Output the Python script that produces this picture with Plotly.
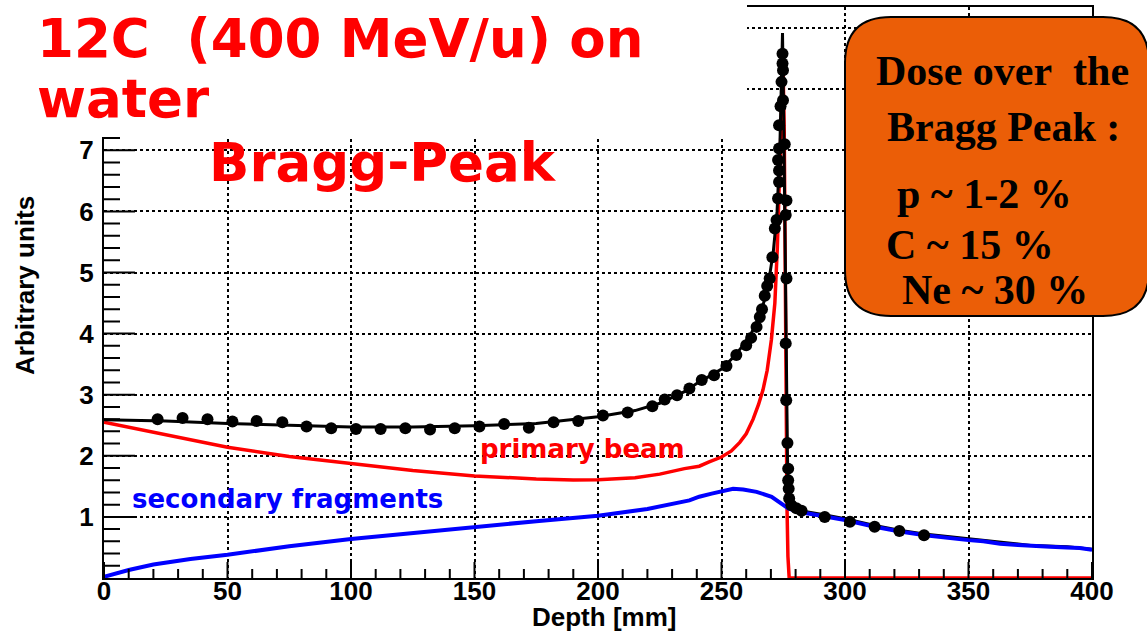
import plotly.graph_objects as go

# ---------------- data ----------------
red_x = [0, 25, 50, 75, 100, 125, 150, 175, 190, 200, 215, 225, 235, 241, 245, 250, 254,
         257.4, 260, 262.8, 265, 266.8, 268.5, 270.2, 271.6, 272.6, 273.5, 274.2, 274.9,
         275.4, 275.7, 276.1, 276.5, 276.9, 277.4, 400]
red_y = [2.55, 2.34, 2.14, 1.99, 1.87, 1.76, 1.67, 1.62, 1.605, 1.61, 1.64, 1.70, 1.79, 1.83,
         1.90, 1.98, 2.08, 2.22, 2.36, 2.60, 2.84, 3.08, 3.40, 3.90, 4.50, 5.40, 6.60, 7.60,
         8.40, 7.30, 5.00, 3.00, 1.20, 0.35, 0.0, 0.0]

tot_x = [0, 25, 50, 75, 100, 125, 150, 175, 200, 215, 225, 235, 241, 245, 250, 255, 258, 262,
         265, 268, 269.5, 271, 272.5, 273.6, 274.3, 274.7, 275.2, 275.7, 276.2, 276.7, 277.1,
         277.6, 279, 282, 292, 300, 312, 322, 332, 350, 363, 376, 390, 400]
tot_y = [2.59, 2.57, 2.53, 2.50, 2.47, 2.47, 2.49, 2.53, 2.64, 2.74, 2.86, 3.05, 3.21, 3.30,
         3.42, 3.62, 3.77, 4.00, 4.25, 4.62, 4.95, 5.35, 6.00, 7.00, 8.00, 8.92, 7.50, 5.50,
         3.50, 2.00, 1.40, 1.20, 1.13, 1.10, 1.03, 0.97, 0.86, 0.78, 0.72, 0.64, 0.58, 0.53,
         0.51, 0.47]

sec_x = [0, 5, 10, 20, 35, 50, 75, 100, 125, 150, 175, 200, 220, 237, 241, 246, 250, 254.7,
         258.8, 264.2, 270.3, 274.3, 277, 281.7, 291.8, 300, 312, 322.3, 332.4, 340, 350, 356,
         362.8, 370, 376.3, 383, 389.8, 395, 400]
sec_y = [0.02, 0.08, 0.13, 0.22, 0.31, 0.38, 0.52, 0.64, 0.74, 0.83, 0.93, 1.02, 1.13, 1.27,
         1.33, 1.38, 1.41, 1.46, 1.45, 1.41, 1.33, 1.22, 1.14, 1.08, 1.01, 0.95, 0.84, 0.76,
         0.70, 0.66, 0.62, 0.60, 0.56, 0.54, 0.52, 0.51, 0.50, 0.49, 0.46]

dot_x = [21.7, 31.8, 41.9, 52, 61.8, 72.2, 82, 92, 102, 112, 122, 132, 142, 152, 162, 172, 182,
         192, 202, 212, 222, 227, 232, 237, 242, 247, 252, 256, 260, 262, 264.2, 265.5, 266.4,
         267.5, 268.5, 269.5, 270.6, 271.6, 272.3, 272.9, 273.3, 273.3, 272.9, 273.3, 273.3,
         273.9, 274.9, 275.6, 274.3, 274.9, 274.7, 274.7,
         276.3, 276.0, 276.3, 276.0, 276.2, 276.7, 277.0, 277.0, 277.2, 277.4, 278.3, 280.3,
         282.4, 291.8, 302, 312, 322, 332]
dot_y = [2.60, 2.62, 2.60, 2.56, 2.57, 2.55, 2.48, 2.45, 2.44, 2.44, 2.45, 2.43, 2.45, 2.48,
         2.52, 2.46, 2.55, 2.57, 2.66, 2.71, 2.81, 2.92, 2.99, 3.10, 3.24, 3.32, 3.47, 3.65,
         3.81, 3.93, 4.11, 4.27, 4.40, 4.62, 4.78, 4.90, 5.25, 5.72, 5.86, 6.21, 6.48, 6.67,
         6.84, 7.03, 7.41, 7.72, 7.82, 7.10, 8.12, 8.31, 8.42, 8.58,
         6.18, 5.94, 4.90, 3.84, 2.91, 2.21, 1.79, 1.60, 1.46, 1.30, 1.19, 1.14, 1.10, 1.00,
         0.92, 0.84, 0.77, 0.70]

# axis ticks
x_major = [0, 50, 100, 150, 200, 250, 300, 350, 400]
x_minor_step = 10
y_major = [1, 2, 3, 4, 5, 6, 7, 8, 9]
y_ticktext = ["1", "2", "3", "4", "5", "6", "7", "", ""]
y_minor_step = 0.2

title_lines = ["12C\u00a0 (400 MeV/u) on", "water", "Bragg-Peak"]
box_lines = ["Dose over\u00a0 the", "Bragg Peak :", "p ~ 1-2 %", "C ~ 15 %", "Ne ~ 30 %"]

# ---------------- geometry helpers (pixels -> paper) ----------------
W, H = 1147, 634
ML, MR, MT, MB = 104, 55, 7, 56
L, R, T, B = ML, W - MR, MT, H - MB
x_range = [0, 400]
y_range = [0, (B - T) / 61.1]
px_per_x = (R - L) / (x_range[1] - x_range[0])
px_per_y = (B - T) / (y_range[1] - y_range[0])


def fx(px):
    return (px - L) / (R - L)


def fy(py):
    return (B - py) / (B - T)


# inward-pointing tick marks (ROOT style) as one path in data coordinates,
# built from the tick arrays through the axis scales
segs = []
n_xminor = int(round((x_range[1] - x_range[0]) / x_minor_step))
for i in range(n_xminor + 1):
    v = x_range[0] + i * x_minor_step
    ln = (16 if v in x_major else 9) / px_per_y
    segs.append(f"M {v} {y_range[0]} L {v} {y_range[0] + ln}")
n_yminor = int(y_range[1] / y_minor_step)
for i in range(1, n_yminor + 1):
    v = round(i * y_minor_step, 6)
    ln = (31 if abs(v - round(v)) < 1e-6 else 16) / px_per_x
    segs.append(f"M {x_range[0]} {v} L {x_range[0] + ln} {v}")
tick_path = " ".join(segs)

fig = go.Figure()
fig.add_trace(go.Scatter(x=red_x, y=red_y, mode="lines",
                         line=dict(color="#ff0000", width=3.5), showlegend=False))
fig.add_trace(go.Scatter(x=tot_x, y=tot_y, mode="lines",
                         line=dict(color="#000000", width=3), showlegend=False))
fig.add_trace(go.Scatter(x=sec_x, y=sec_y, mode="lines",
                         line=dict(color="#0000ff", width=4), showlegend=False))
fig.add_trace(go.Scatter(x=dot_x, y=dot_y, mode="markers",
                         marker=dict(color="#000000", size=12), showlegend=False))

tickfont = dict(family="Liberation Sans", size=26, color="black", weight="bold")

fig.update_layout(
    xaxis=dict(range=x_range, tickvals=x_major, ticks="",
               showline=True, linewidth=2, linecolor="black", mirror=True,
               showgrid=True, gridcolor="black", gridwidth=1.5, griddash="dot",
               zeroline=False, tickfont=tickfont, ticklabelstandoff=-11,
               layer="below traces"),
    yaxis=dict(range=y_range, tickvals=y_major, ticktext=y_ticktext, ticks="",
               showline=True, linewidth=2, linecolor="black", mirror=True,
               showgrid=True, gridcolor="black", gridwidth=1.5, griddash="dot",
               zeroline=False, tickfont=tickfont, ticklabelstandoff=3),
)

shapes = []
shapes.append(dict(type="path", xref="x", yref="y", path=tick_path,
                   line=dict(color="black", width=2), layer="above"))
# white cover for the title area (top-left)
shapes.append(dict(type="rect", xref="paper", yref="paper", x0=fx(-5), x1=fx(747),
                   y0=fy(137), y1=fy(-5), fillcolor="white", line=dict(width=0),
                   layer="above"))
# orange rounded box
bx0, bx1, by0, by1, rr = 845, 1149, 17, 316, 46
path = (f"M {fx(bx0 + rr)} {fy(by0)} L {fx(bx1 - rr)} {fy(by0)} "
        f"Q {fx(bx1)} {fy(by0)} {fx(bx1)} {fy(by0 + rr)} "
        f"L {fx(bx1)} {fy(by1 - rr)} Q {fx(bx1)} {fy(by1)} {fx(bx1 - rr)} {fy(by1)} "
        f"L {fx(bx0 + rr)} {fy(by1)} Q {fx(bx0)} {fy(by1)} {fx(bx0)} {fy(by1 - rr)} "
        f"L {fx(bx0)} {fy(by0 + rr)} Q {fx(bx0)} {fy(by0)} {fx(bx0 + rr)} {fy(by0)} Z")
shapes.append(dict(type="path", xref="paper", yref="paper", path=path,
                   fillcolor="#eb5e07", line=dict(color="black", width=2), layer="above"))

ann = []
red_title = dict(family="DejaVu Sans", size=53, color="#ff0000", weight="bold")
for txt, (px, py) in zip(title_lines, [(35, 38), (35, 98), (207, 163)]):
    ann.append(dict(text=txt, x=fx(px), y=fy(py), xref="paper", yref="paper",
                    xanchor="left", yanchor="middle", showarrow=False, font=red_title))

box_font = dict(family="Liberation Serif", size=42, color="black", weight="bold")
for txt, (px, py) in zip(box_lines, [(874, 71), (885, 127), (895, 194), (884, 245), (900, 290)]):
    ann.append(dict(text=txt, x=fx(px), y=fy(py), xref="paper", yref="paper",
                    xanchor="left", yanchor="middle", showarrow=False, font=box_font))

lab_font = dict(family="DejaVu Sans", size=26, weight="bold")
ann.append(dict(text="primary beam", x=fx(478), y=fy(449), xref="paper", yref="paper",
                xanchor="left", yanchor="middle", showarrow=False,
                font=dict(lab_font, color="#ff0000")))
ann.append(dict(text="secondary fragments", x=fx(130), y=fy(499), xref="paper", yref="paper",
                xanchor="left", yanchor="middle", showarrow=False,
                font=dict(lab_font, color="#0000ff")))

axis_font = dict(family="Liberation Sans", size=26, color="black", weight="bold")
ann.append(dict(text="Depth [mm]", x=fx(604), y=fy(617), xref="paper", yref="paper",
                xanchor="center", yanchor="middle", showarrow=False, font=axis_font))
ann.append(dict(text="Arbitrary units", x=fx(25), y=fy(286), xref="paper", yref="paper",
                xanchor="center", yanchor="middle", showarrow=False, textangle=-90,
                font=axis_font))

fig.update_layout(width=W, height=H, margin=dict(l=ML, r=MR, t=MT, b=MB, autoexpand=False),
                  paper_bgcolor="white", plot_bgcolor="white", shapes=shapes,
                  annotations=ann, showlegend=False)

fig.write_html("out.html", config={"displayModeBar": False})
